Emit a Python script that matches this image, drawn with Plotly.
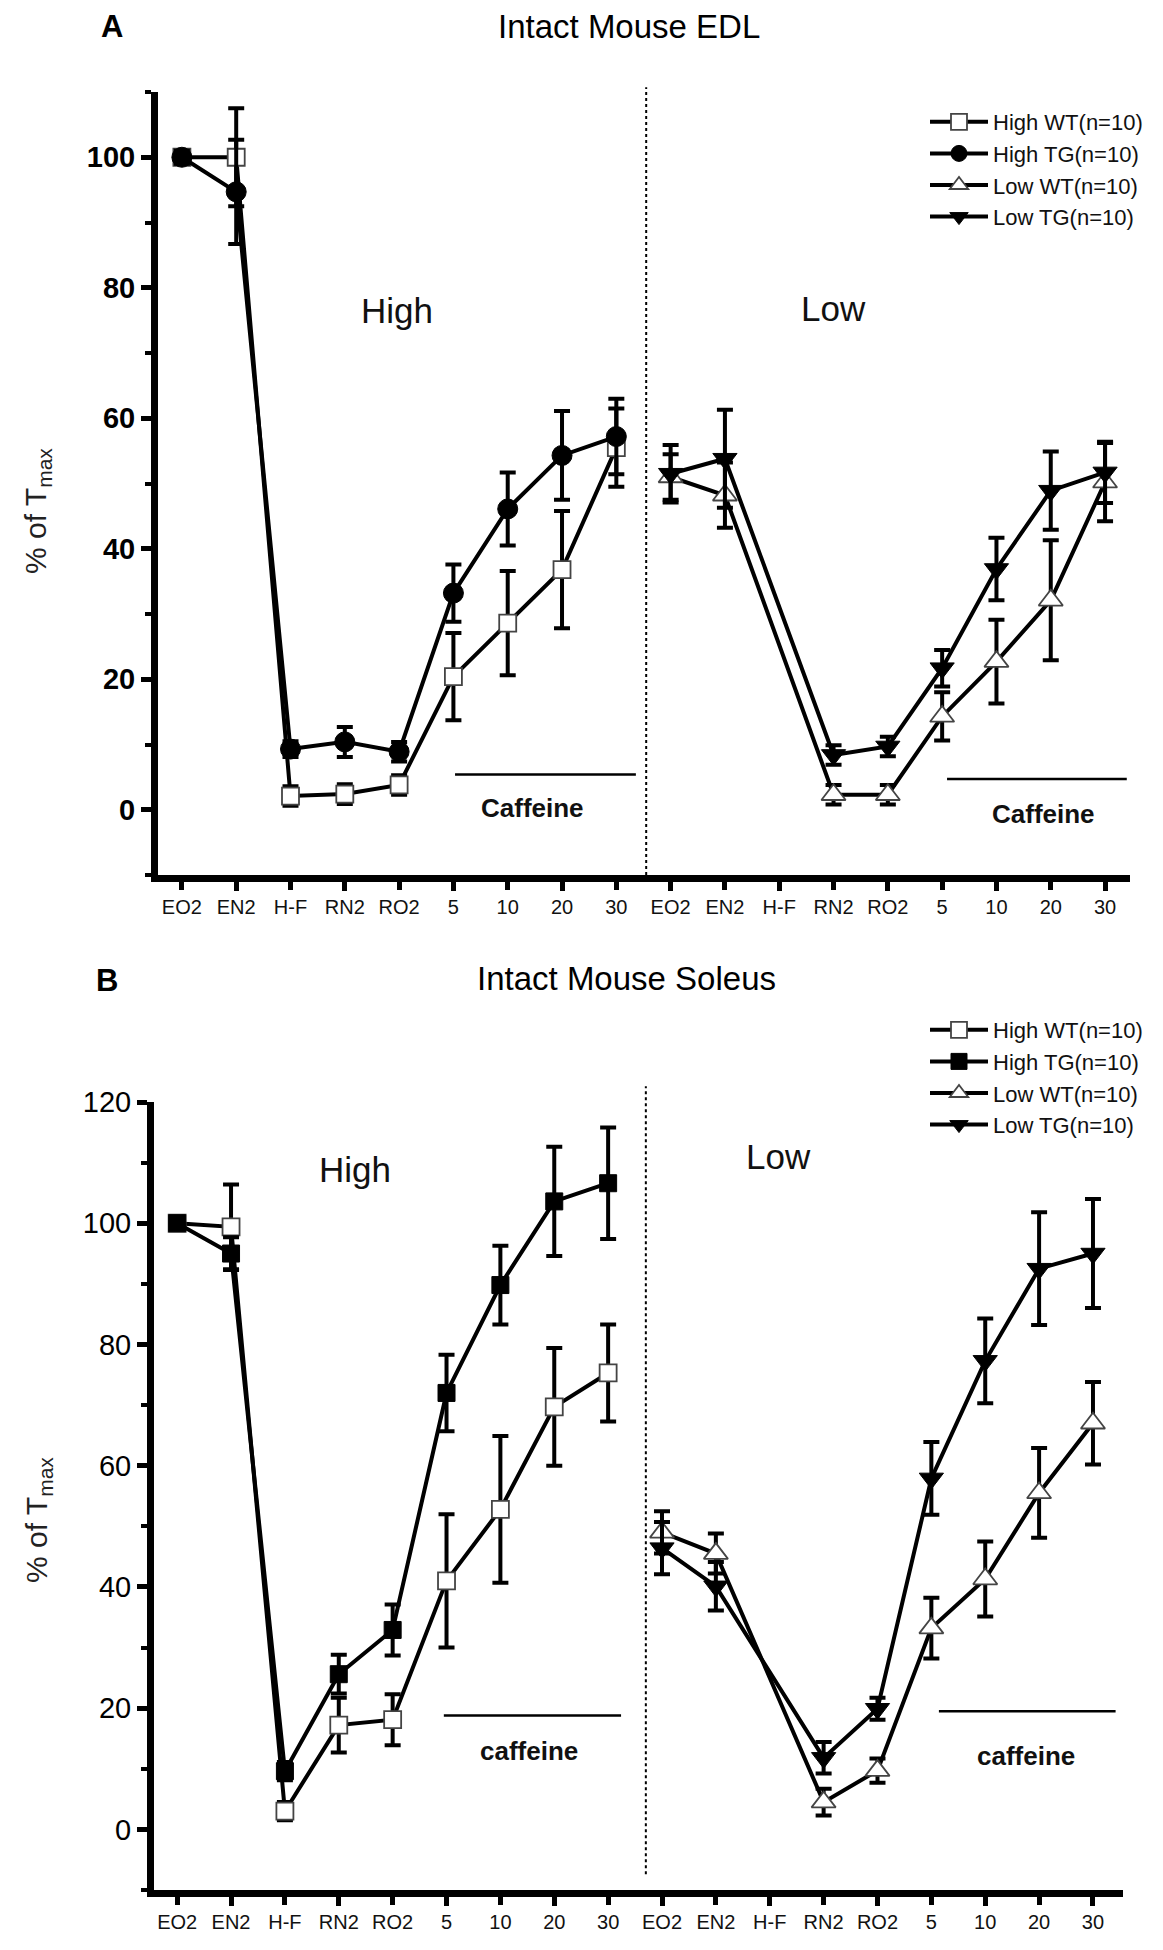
import plotly.graph_objects as go

# ---------------- data ----------------
stages = ["EO2", "EN2", "H-F", "RN2", "RO2", "5", "10", "20", "30"]
tick_labels = stages + stages
high_pos = list(range(0, 9))
low_pos = list(range(9, 18))

# Panel A: Intact Mouse EDL
a_high_wt = [100, 100, 2.1, 2.4, 3.8, 20.4, 28.6, 36.8, 55.5]
a_high_wt_err = [0.8, 7.5, 1.5, 1.5, 1.5, 6.7, 8.0, 9.0, 6.0]
a_high_tg = [100, 94.7, 9.3, 10.4, 8.9, 33.2, 46.1, 54.3, 57.2]
a_high_tg_err = [1.0, 8.0, 1.2, 2.3, 1.5, 4.4, 5.6, 6.8, 5.8]
a_low_wt = [51.0, 48.2, None, 2.3, 2.3, 14.3, 22.7, 32.1, 50.2]
a_low_wt_err = [3.5, 5.0, 0, 1.5, 1.5, 3.7, 6.4, 9.2, 6.0]
a_low_tg = [51.5, 53.8, None, 8.4, 9.7, 21.7, 36.9, 48.9, 51.7]
a_low_tg_err = [4.4, 7.5, 0, 1.5, 1.5, 2.8, 4.8, 6.0, 4.7]

# Panel B: Intact Mouse Soleus
b_high_wt = [100, 99.4, 3.0, 17.2, 18.1, 41.0, 52.8, 69.7, 75.3]
b_high_wt_err = [0.8, 7.0, 1.5, 4.5, 4.2, 11.0, 12.1, 9.7, 8.0]
b_high_tg = [100, 95.0, 9.6, 25.6, 32.9, 72.0, 89.8, 103.6, 106.6]
b_high_tg_err = [0.8, 2.7, 1.5, 3.2, 4.2, 6.3, 6.5, 9.0, 9.2]
b_low_wt = [49.0, 45.5, None, 4.5, 9.7, 33.2, 41.3, 55.5, 67.0]
b_low_wt_err = [3.5, 3.3, 0, 2.2, 2.0, 5.0, 6.2, 7.4, 6.8]
b_low_tg = [46.4, 40.1, None, 11.8, 19.9, 57.9, 77.3, 92.5, 95.0]
b_low_tg_err = [4.3, 4.0, 0, 2.6, 1.8, 6.0, 7.0, 9.3, 9.0]

names = ["High WT(n=10)", "High TG(n=10)", "Low WT(n=10)", "Low TG(n=10)"]

# ---------------- styling helpers ----------------
FONT = "Liberation Sans, Arial, sans-serif"
W, H = 1163, 1950
OFF = 8  # page body margin


def px_x(p):
    return (p - OFF) / W


def px_y(p):
    return 1 - (p - OFF) / H


def marker(symbol, filled, size):
    if filled:
        return dict(symbol=symbol, size=size, color="black",
                    line=dict(color="black", width=1))
    return dict(symbol=symbol, size=size, color="white",
                line=dict(color="#444444", width=1.8))


def trace(x, y, err, name, mk, xa, ya, leg):
    return go.Scatter(
        x=x, y=y, name=name, mode="lines+markers", connectgaps=True,
        line=dict(color="black", width=4),
        marker=mk,
        error_y=dict(type="data", array=err, visible=True, color="black",
                     thickness=4, width=8),
        xaxis=xa, yaxis=ya, legend=leg, cliponaxis=False,
    )


fig = go.Figure()

# Panel A traces
fig.add_trace(trace(high_pos, a_high_wt, a_high_wt_err, names[0],
                    marker("square", False, 17), "x", "y", "legend"))
fig.add_trace(trace(high_pos, a_high_tg, a_high_tg_err, names[1],
                    marker("circle", True, 20), "x", "y", "legend"))
fig.add_trace(trace(low_pos, a_low_wt, a_low_wt_err, names[2],
                    marker("triangle-up", False, 21), "x", "y", "legend"))
fig.add_trace(trace(low_pos, a_low_tg, a_low_tg_err, names[3],
                    marker("triangle-down", True, 21), "x", "y", "legend"))

# Panel B traces
fig.add_trace(trace(high_pos, b_high_wt, b_high_wt_err, names[0],
                    marker("square", False, 17), "x2", "y2", "legend2"))
fig.add_trace(trace(high_pos, b_high_tg, b_high_tg_err, names[1],
                    marker("square", True, 17), "x2", "y2", "legend2"))
fig.add_trace(trace(low_pos, b_low_wt, b_low_wt_err, names[2],
                    marker("triangle-up", False, 21), "x2", "y2", "legend2"))
fig.add_trace(trace(low_pos, b_low_tg, b_low_tg_err, names[3],
                    marker("triangle-down", True, 21), "x2", "y2", "legend2"))

all_pos = list(range(18))
odd_pos = [p for p in all_pos if p % 2 == 1]


def xaxis_main(domain, rng):
    return dict(domain=domain, range=rng, showgrid=False, zeroline=False,
                automargin=False,
                showline=True, linecolor="black", linewidth=7,
                ticks="outside", ticklen=8, tickwidth=5, tickcolor="black",
                tickmode="array", tickvals=all_pos, ticktext=tick_labels,
                tickfont=dict(family=FONT, size=20, color="#111111"),
                fixedrange=True)


def xaxis_long(over, anchor, rng):
    return dict(overlaying=over, anchor=anchor, side="bottom", range=rng,
                automargin=False,
                showgrid=False, zeroline=False, showline=False,
                ticks="outside", ticklen=15, tickwidth=5, tickcolor="black",
                tickmode="array", tickvals=odd_pos, showticklabels=False)


def yaxis_main(domain, rng, vals, bold):
    return dict(domain=domain, range=rng, showgrid=False, zeroline=False,
                automargin=False,
                showline=True, linecolor="black", linewidth=7,
                ticks="outside", ticklen=10, tickwidth=5, tickcolor="black",
                tickmode="array", tickvals=vals,
                tickfont=dict(family=FONT, size=29, color="black",
                              weight="bold" if bold else "normal"),
                minor=dict(ticks="outside", ticklen=6, tickwidth=4,
                           tickcolor="black", dtick=10, tick0=0),
                fixedrange=True)


xa_range = [-0.44, 17.45]
xb_range = [-0.43, 17.55]
ya_range = [-10, 110]
yb_range = [-10, 120]

fig.update_layout(
    width=W, height=H, autosize=False,
    margin=dict(l=0, r=0, t=0, b=0, pad=0),
    paper_bgcolor="white", plot_bgcolor="white",
    font=dict(family=FONT, color="black"),
    xaxis=xaxis_main([px_x(158), px_x(1129.5)], xa_range) | dict(anchor="y"),
    yaxis=yaxis_main([px_y(875), px_y(92)], ya_range,
                     [0, 20, 40, 60, 80, 100], True) | dict(anchor="x"),
    xaxis2=xaxis_main([px_x(154), px_x(1122.6)], xb_range) | dict(anchor="y2"),
    yaxis2=yaxis_main([px_y(1890), px_y(1102)], yb_range,
                      [0, 20, 40, 60, 80, 100, 120], False) | dict(anchor="x2"),
    xaxis3=xaxis_long("x", "y", xa_range),
    xaxis4=xaxis_long("x2", "y2", xb_range),
    legend=dict(x=px_x(925), y=px_y(101), xanchor="left", yanchor="top",
                font=dict(family=FONT, size=22, color="#111111"),
                bgcolor="rgba(0,0,0,0)", itemwidth=58, tracegroupgap=0),
    legend2=dict(x=px_x(925), y=px_y(1009), xanchor="left", yanchor="top",
                 font=dict(family=FONT, size=22, color="#111111"),
                 bgcolor="rgba(0,0,0,0)", itemwidth=58, tracegroupgap=0),
    showlegend=True,
)

# dummy traces so overlay axes render their ticks
fig.add_trace(go.Scatter(x=[None], y=[None], xaxis="x3", yaxis="y",
                         showlegend=False, hoverinfo="skip"))
fig.add_trace(go.Scatter(x=[None], y=[None], xaxis="x4", yaxis="y2",
                         showlegend=False, hoverinfo="skip"))

# dotted divider lines
fig.add_shape(type="line", xref="x", yref="y domain", x0=8.55, x1=8.55,
              y0=0, y1=1.006, line=dict(color="black", width=2, dash="dot"))
fig.add_shape(type="line", xref="x2", yref="y2 domain", x0=8.7, x1=8.7,
              y0=0.02, y1=1.02, line=dict(color="black", width=2, dash="dot"))

# caffeine bars
for xr, yr, x0, x1, yv in [("x", "y", 5.03, 8.36, 5.4), ("x", "y", 14.09, 17.4, 4.7),
                           ("x2", "y2", 4.95, 8.24, 18.8), ("x2", "y2", 14.14, 17.42, 19.5)]:
    fig.add_shape(type="line", xref=xr, yref=yr, x0=x0, x1=x1, y0=yv, y1=yv,
                  line=dict(color="black", width=2.5))

ann = []


def paper_text(text, xp, yp, size, angle=0, color="black"):
    return dict(text=text, x=px_x(xp), y=px_y(yp), xref="paper", yref="paper",
                xanchor="center", yanchor="middle", showarrow=False,
                textangle=angle, font=dict(family=FONT, size=size, color=color))


# panel letters and titles
ann.append(paper_text("<b>A</b>", 112, 26, 31))
ann.append(paper_text("Intact Mouse EDL", 629, 26, 33))
ann.append(paper_text("<b>B</b>", 107, 981, 31))
ann.append(paper_text("Intact Mouse Soleus", 626, 978, 33))
# y axis titles
ann.append(paper_text("% of T<sub>max</sub>", 38, 511, 30, -90, "#222222"))
ann.append(paper_text("% of T<sub>max</sub>", 38, 1520, 30, -90, "#222222"))
# High / Low labels
for txt, xr, yr, xv, yv in [("High", "x", "y", 3.96, 76.5), ("Low", "x", "y", 11.99, 76.8),
                            ("High", "x2", "y2", 3.3, 108.8), ("Low", "x2", "y2", 11.17, 111.0)]:
    ann.append(dict(text=txt, x=xv, y=yv, xref=xr, yref=yr, showarrow=False,
                    xanchor="center", yanchor="middle",
                    font=dict(family=FONT, size=35, color="#111111")))
# caffeine labels
for txt, xr, yr, xv, yv in [("Caffeine", "x", "y", 6.46, 0.2), ("Caffeine", "x", "y", 15.86, -0.7),
                            ("caffeine", "x2", "y2", 6.53, 12.9), ("caffeine", "x2", "y2", 15.75, 12.1)]:
    ann.append(dict(text="<b>" + txt + "</b>", x=xv, y=yv, xref=xr, yref=yr,
                    showarrow=False, xanchor="center", yanchor="middle",
                    font=dict(family=FONT, size=26, color="#111111")))

fig.update_layout(annotations=ann)

fig.write_html("out.html")
